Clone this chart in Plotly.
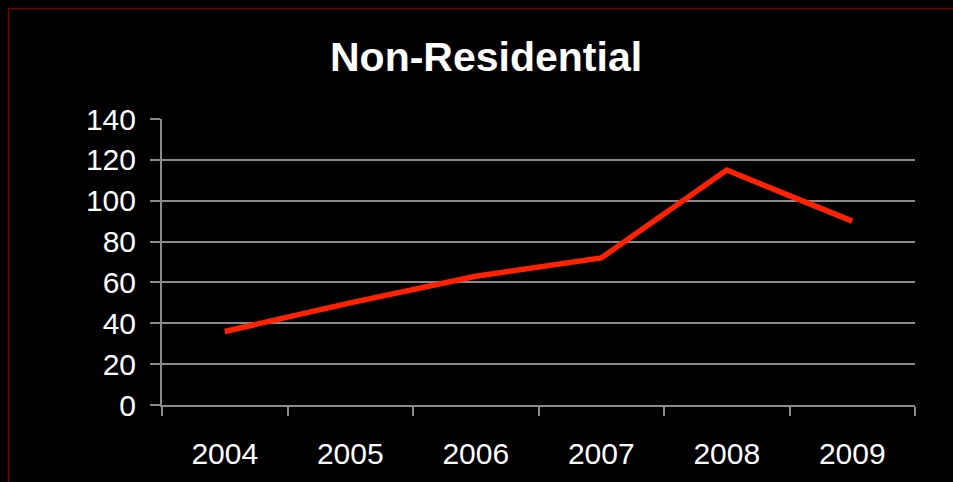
import plotly.graph_objects as go

years = ["2004", "2005", "2006", "2007", "2008", "2009"]
values = [36, 50, 63, 72, 115, 90]
y_ticks = [0, 20, 40, 60, 80, 100, 120, 140]

L, R, T, B = 162, 915, 119, 405
W, H = 953, 482
pw, ph = R - L, B - T

fig = go.Figure()
fig.add_trace(go.Scatter(
    x=years, y=values, mode="lines",
    line=dict(color="#FF2200", width=5.5),
    hoverinfo="x+y",
))

def px_x(p):
    return (p - L) / pw

def px_y(p):
    return (B - p) / ph

fig.update_layout(
    width=W, height=H,
    margin=dict(l=L, r=W - R, t=T, b=H - B, autoexpand=False),
    paper_bgcolor="black", plot_bgcolor="black",
    showlegend=False,
    font=dict(family="Liberation Sans, Arial, sans-serif", color="white", size=30),
    xaxis=dict(
        type="category", tickson="boundaries", ticks="outside", ticklen=9,
        tickcolor="#8a8a8a", tickwidth=2, showline=True, linecolor="#8a8a8a",
        linewidth=2, showgrid=False, range=[-0.5, 5.5],
        tickfont=dict(size=30, color="white"), ticklabelstandoff=21,
    ),
    yaxis=dict(
        range=[0, 140], tickvals=y_ticks, ticks="outside", ticklen=10,
        tickcolor="#8a8a8a", tickwidth=2, showline=True, linecolor="#8a8a8a",
        linewidth=2, showgrid=True, gridcolor="#8a8a8a", gridwidth=2,
        zeroline=False, tickfont=dict(size=30, color="white"),
        ticklabelstandoff=8,
    ),
    annotations=[dict(
        text="<b>Non-Residential</b>", xref="paper", yref="paper",
        x=px_x(485.5), y=px_y(57), xanchor="center", yanchor="middle",
        showarrow=False, font=dict(size=41, color="white"),
    )],
    shapes=[dict(
        type="rect", xref="paper", yref="paper",
        x0=px_x(8.5), x1=px_x(1000), y0=px_y(8.5), y1=px_y(1000),
        line=dict(color="#7a0000", width=1.5), fillcolor="rgba(0,0,0,0)",
        layer="below",
    )],
)

fig.write_html(
    "out.html",
    config={"displayModeBar": False},
    post_script="document.body.style.margin='0';document.body.style.padding='0';"
                "document.body.style.overflow='hidden';"
                "document.documentElement.style.background='black';",
)
